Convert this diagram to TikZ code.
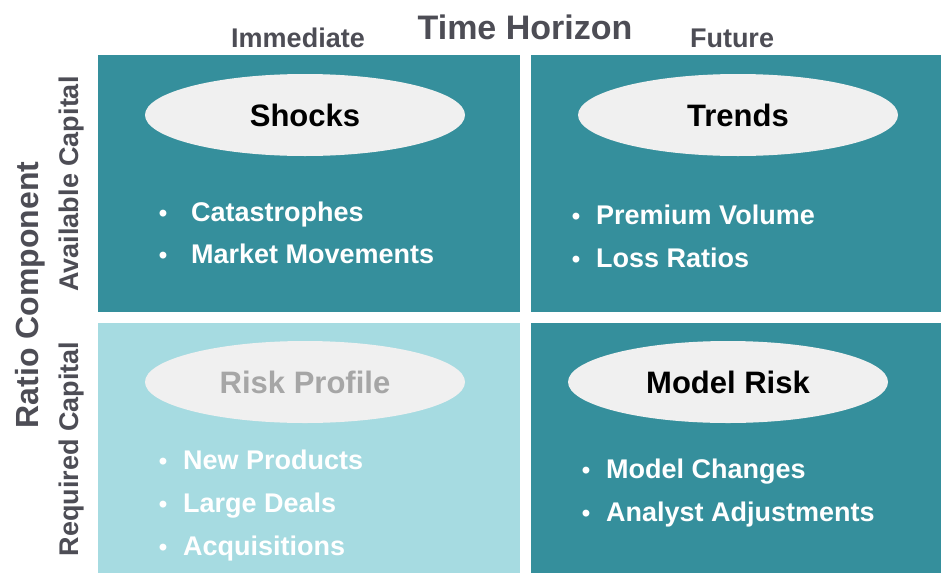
\documentclass[tikz,border=0pt]{standalone}
\usepackage{fontspec}
\setmainfont{Liberation Sans}
\usetikzlibrary{shapes.geometric}
\definecolor{teal}{HTML}{358F9C}
\definecolor{lightteal}{HTML}{A6DBE1}
\definecolor{ellfill}{HTML}{F0F0F0}
\definecolor{titlegray}{HTML}{4D4D55}
\definecolor{fadegray}{HTML}{A6A6A6}
\begin{document}
\begin{tikzpicture}[x=1pt,y=-1pt,
  ell/.style={ellipse,fill=ellfill,minimum width=320pt,minimum height=82pt,inner sep=0,font=\fontsize{31}{34}\selectfont\bfseries},
  btext/.style={anchor=base west,inner sep=0,text=white,font=\fontsize{27}{30}\selectfont\bfseries},
  bdot/.style={anchor=base,inner sep=0,text=white,font=\fontsize{24}{26}\selectfont\bfseries},
  head/.style={text=titlegray,inner sep=0,font=\fontsize{27}{30}\selectfont\bfseries},
]
\useasboundingbox (0,0) rectangle (941,573);
\fill[white] (0,0) rectangle (941,573);
% quadrants
\fill[teal] (98,55) rectangle (520,312);
\fill[teal] (531,55) rectangle (941,312);
\fill[lightteal] (98,323) rectangle (520,573);
\fill[teal] (531,323) rectangle (941,573);
% headings
\node[head,font=\fontsize{34}{37}\selectfont\bfseries] (th) at (525,27) {Time Horizon};
\node[head] (imm) at (298,38) {Immediate};
\node[head] (fut) at (732,38) {Future};
\node[head,rotate=90,font=\fontsize{32}{35}\selectfont\bfseries] (rc) at (30,295) {Ratio Component};
\node[head,rotate=90] (ac) at (72,184) {Available Capital};
\node[head,rotate=90] (rq) at (72,449) {Required Capital};
% ellipses
\node[ell] (shocks) at (305,115) {Shocks};
\node[ell] (trends) at (738,115) {Trends};
\node[ell,text=fadegray] (risk) at (305,382) {Risk Profile};
\node[ell] (model) at (728,382) {Model Risk};
% bullets TL
\node[bdot] (d1) at (163,221) {•};
\node[btext] (t1) at (191,221) {Catastrophes};
\node[bdot] (d2) at (163,263) {•};
\node[btext] (t2) at (191,263) {Market Movements};
% bullets TR
\node[bdot] (d3) at (576,224) {•};
\node[btext] (t3) at (596,224) {Premium Volume};
\node[bdot] (d4) at (576,267) {•};
\node[btext] (t4) at (596,267) {Loss Ratios};
% bullets BL
\node[bdot] (d5) at (163,469) {•};
\node[btext] (t5) at (183,469) {New Products};
\node[bdot] (d6) at (163,512) {•};
\node[btext] (t6) at (183,512) {Large Deals};
\node[bdot] (d7) at (163,555) {•};
\node[btext] (t7) at (183,555) {Acquisitions};
% bullets BR
\node[bdot] (d8) at (586,478) {•};
\node[btext] (t8) at (606,478) {Model Changes};
\node[bdot] (d9) at (586,521) {•};
\node[btext] (t9) at (606,521) {Analyst Adjustments};
\end{tikzpicture}
\end{document}
